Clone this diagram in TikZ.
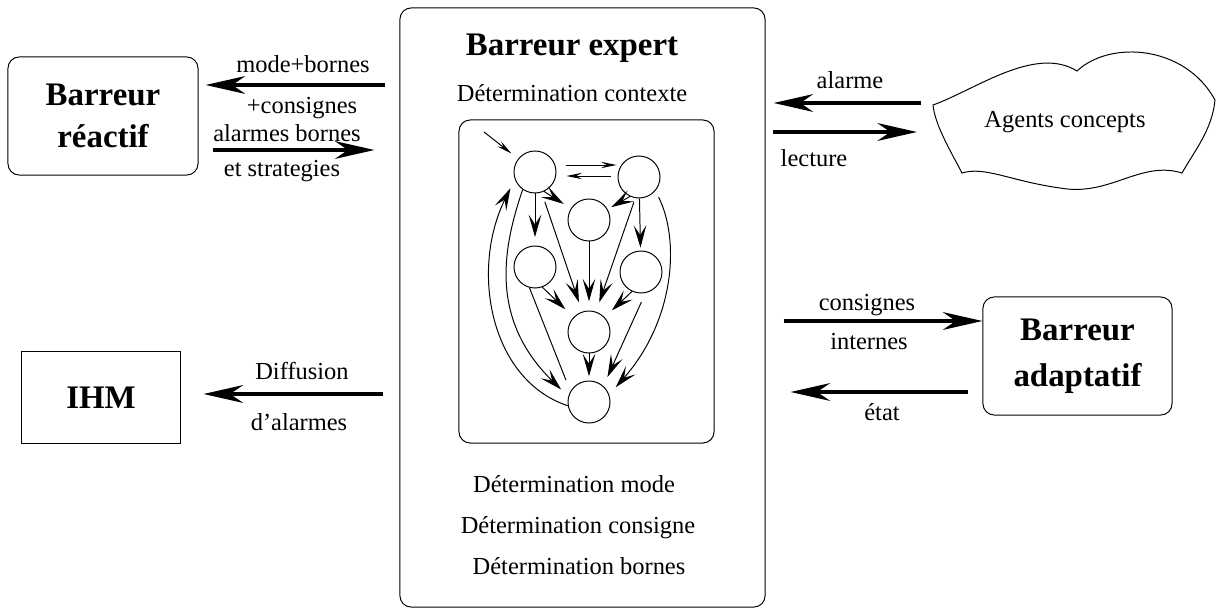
\documentclass[tikz,border=0pt]{standalone}
\usepackage{fontspec}
\setmainfont{Liberation Serif}
\usepackage{tikz}
\usetikzlibrary{arrows.meta, positioning, calc}
\newcommand\txtfont{\fontsize{17.4}{21}\selectfont}
\newcommand\boxfont{\fontsize{23.4}{30}\selectfont\bfseries}

\begin{document}
\begin{tikzpicture}[
    x=0.025cm, y=-0.025cm,
    line width=0.7pt,
    every node/.style={font=\txtfont, inner sep=0pt},
    rbox/.style={draw, rounded corners=8pt, align=center, font=\boxfont},
    etat/.style={draw, circle, minimum size=1.05cm},
    lbl/.style={anchor=base},
    flow/.style={line width=3.5pt, -{Stealth[length=28pt, width=12.5pt, inset=9pt]}},
    trans/.style={-{Stealth[length=16pt, width=9pt, inset=7pt]}, shorten >=6pt},
    thinarrow/.style={-{Stealth[length=11pt, width=4.5pt, inset=4pt]}},
]
    \useasboundingbox (0,0) rectangle (1217,610);

    % boxes
    \node[rbox, minimum width=9.125cm, minimum height=14.975cm] (expert) at (582.5,307.5) {};
    \node[draw, rounded corners=8pt, minimum width=6.375cm, minimum height=8.075cm] (inner) at (586.5,281.5) {};
    \node[rbox, minimum width=4.75cm, minimum height=2.95cm] (reactif) at (103,116) {Barreur\\réactif};
    \node[draw, minimum width=3.95cm, minimum height=2.275cm, font=\boxfont] (ihm) at (101,397.5) {IHM};
    \node[rbox, minimum width=4.725cm, minimum height=2.95cm,
          font=\fontsize{23.4}{33}\selectfont\bfseries] (adapt) at (1077.5,356) {Barreur\\adaptatif};

    % cloud
    \coordinate (cl) at (933,105);
    \draw (cl) .. controls (975,90) and (1035,45) .. (1077,71)
        .. controls (1110,40) and (1185,45) .. (1215,100)
        .. controls (1212,130) and (1195,150) .. (1182,173)
        .. controls (1140,160) and (1110,197) .. (1060,188)
        .. controls (1010,181) and (985,166) .. (962,173)
        .. controls (950,150) and (935,125) .. cycle;
    \node[lbl] (agents) at (1065,128) {Agents concepts};

    % texts of the expert
    \node[lbl, font=\boxfont] (title) at (572,56) {Barreur expert};
    \node[lbl] (ctx) at (572,102) {Détermination contexte};
    \node[lbl] (dmode) at (574,492) {Détermination mode};
    \node[lbl] (dcons) at (578,533) {Détermination consigne};
    \node[lbl] (dborn) at (579,574) {Détermination bornes};

    % states
    \node[etat] (A) at (535,172) {};
    \node[etat] (B) at (639,177) {};
    \node[etat] (C) at (589,220) {};
    \node[etat] (D) at (535,267) {};
    \node[etat] (E) at (641,272) {};
    \node[etat] (F) at (589,332) {};
    \node[etat] (G) at (589,402) {};
    \coordinate (init) at (484,132);

    \draw[thinarrow, shorten >=6pt] (init) -- (A);
    \draw[thinarrow] ($(A.east)+(9,-7)$) -- ($(B.west)+(-1,-12)$);
    \draw[thinarrow] ($(B.west)+(-7,-1)$) -- ($(A.east)+(10,4)$);
    \draw[trans] (A.-65) -- (C);
    \draw[trans, shorten >=3pt] (B.-115) -- (C);
    \draw[trans] (A) -- (D);
    \draw[trans, shorten >=2pt] (B) -- (E);
    \draw[trans, shorten <=7pt, shorten >=7pt] (A.-72) -- (F);
    \draw[trans, shorten >=6.5pt] (C) -- (F);
    \draw[trans, shorten <=3pt, shorten >=7pt] (B.-100) -- (F);
    \draw[trans, shorten >=8pt] (D.-70) -- (F);
    \draw[trans, shorten >=7pt] (E.-115) -- (F);
    \draw[trans, shorten >=3pt] (F) -- (G);
    \draw[shorten >=8.5pt] (D.-105) -- (G.150);
    \draw[trans, shorten <=7pt, shorten >=7pt] (E.-78) -- (G.48);
    \draw[trans, shorten >=7pt] (A.-125) .. controls (502,250) and (490,320) .. (G.165);
    \draw[trans, shorten >=7pt] (G.190) .. controls (490,380) and (470,270) .. (A.-160);
    \draw[trans, shorten <=5pt, shorten >=7pt] (B.-40) .. controls (680,240) and (675,320) .. (G.20);

    % flows between agents
    \draw[flow, shorten <=10.6pt, shorten >=5pt] (expert.west |- 0,85) -- (reactif.east |- 0,85);
    \draw[flow, shorten <=10pt, shorten >=17.7pt] (reactif.east |- 0,150) -- (expert.west |- 0,150);
    \draw[flow, shorten <=12pt, shorten >=16.3pt] (expert.west |- 0,394) -- (ihm.east |- 0,394);
    \draw[flow, shorten <=8.5pt, shorten >=5.7pt] (cl |- 0,103) -- (expert.east |- 0,103);
    \draw[flow, shorten <=5pt, shorten >=11.3pt] (expert.east |- 0,132) -- (cl |- 0,132);
    \draw[flow, shorten <=12.8pt] (expert.east |- 0,321) -- (adapt.west |- 0,321);
    \draw[flow, shorten <=10.6pt, shorten >=17.7pt] (adapt.west |- 0,392) -- (expert.east |- 0,392);

    \node[lbl] (lmb) at (303,73) {mode+bornes};
    \node[lbl] (lcons) at (302,114) {+consignes};
    \node[lbl] (lalb) at (287,142) {alarmes bornes};
    \node[lbl] (lstr) at (282,177) {et strategies};
    \node[lbl] (ldif) at (302,379) {Diffusion};
    \node[lbl] (ldal) at (299,430) {d'alarmes};
    \node[lbl] (lala) at (850,89) {alarme};
    \node[lbl] (llec) at (814,167) {lecture};
    \node[lbl] (lcon) at (867,310) {consignes};
    \node[lbl] (lint) at (869,349) {internes};
    \node[lbl] (leta) at (882,420) {état};
\end{tikzpicture}
\end{document}
